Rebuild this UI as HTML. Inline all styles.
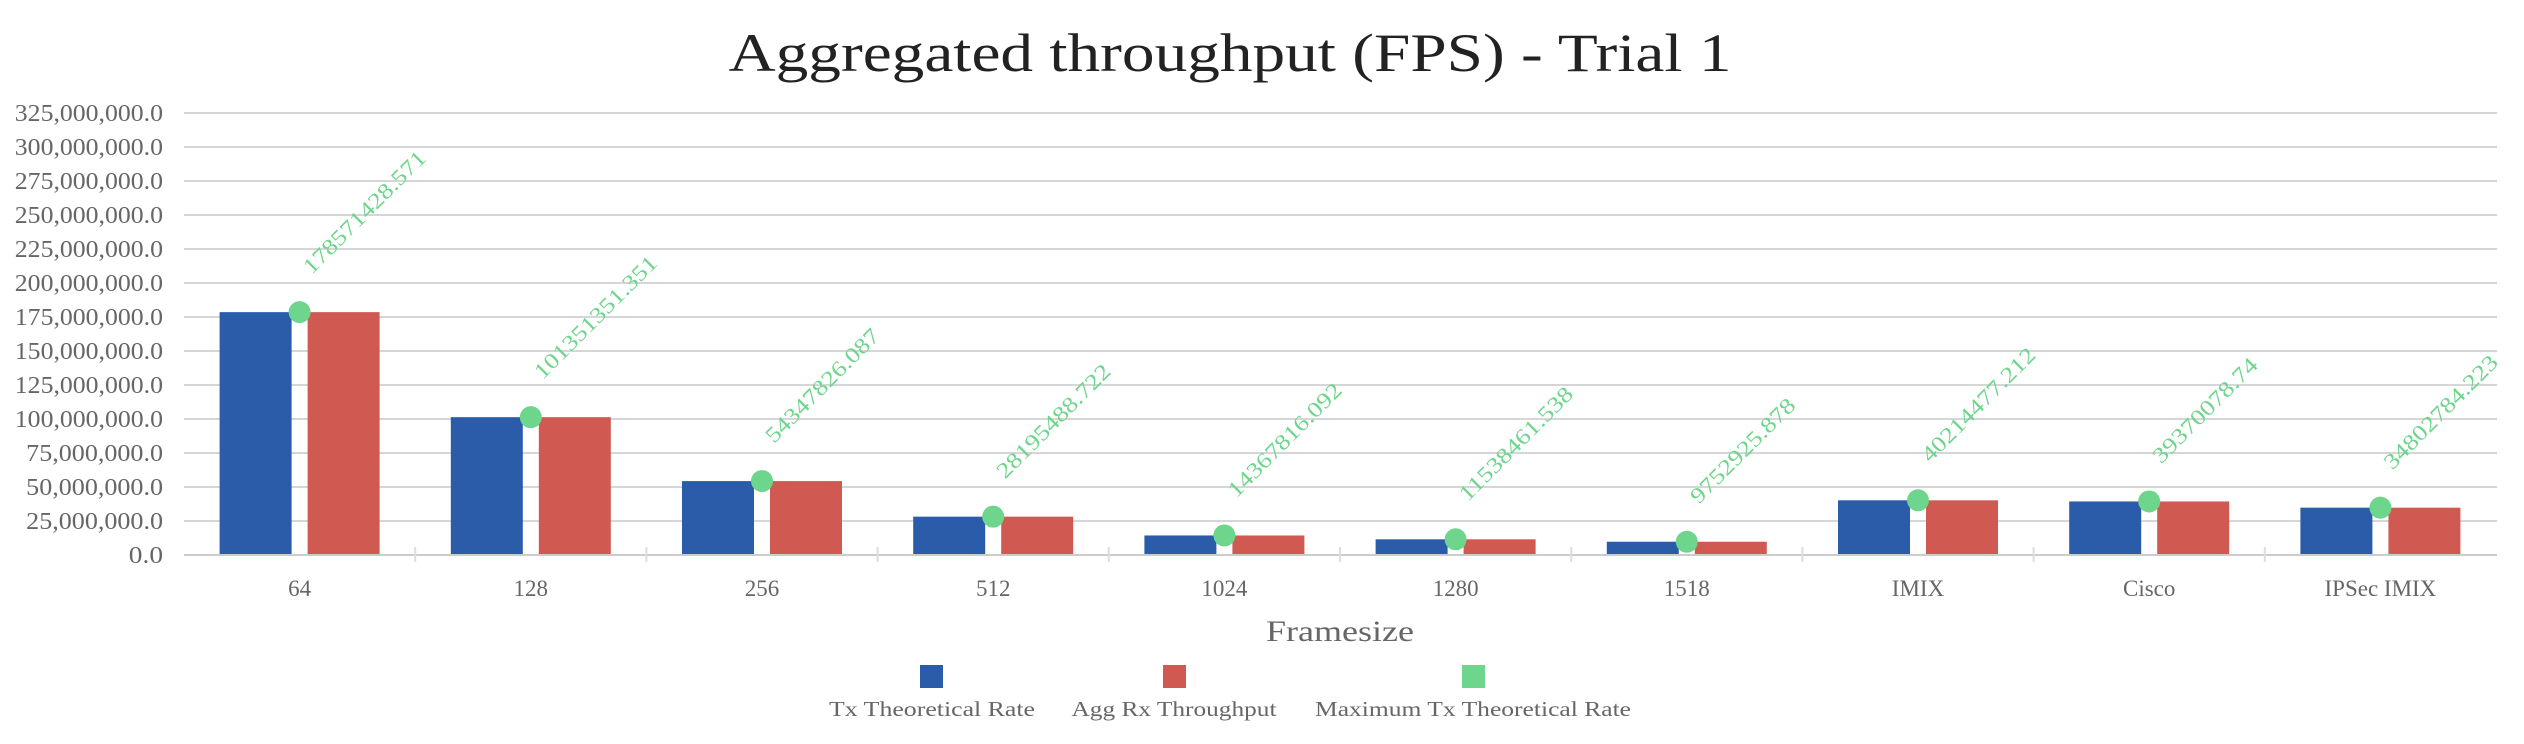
<!DOCTYPE html>
<html><head><meta charset="utf-8"><style>html,body{margin:0;padding:0;background:#fff}svg{display:block}</style></head>
<body>
<svg width="2524" height="744" xmlns="http://www.w3.org/2000/svg" font-family="Liberation Serif, serif">
<text x="1230" y="71" font-size="54" fill="#222" text-anchor="middle" textLength="1003" lengthAdjust="spacingAndGlyphs">Aggregated throughput (FPS) - Trial 1</text>
<g id="grid" stroke="#d6d6d6" stroke-width="2"></g>
<g id="ylab" font-size="24" fill="#666" text-anchor="end"></g>
<g id="bars"></g>
<line x1="184" y1="555" x2="2497" y2="555" stroke="#ccc" stroke-width="2"/>
<g id="ticks" stroke="#ddd" stroke-width="2"></g>
<g id="xlab" font-size="23" fill="#666" text-anchor="middle"></g>
<text x="1340" y="641" font-size="30" fill="#666" text-anchor="middle" textLength="148" lengthAdjust="spacingAndGlyphs">Framesize</text>
<rect x="920" y="665" width="23" height="23" fill="#2a5caa"/>
<rect x="1163" y="665" width="23" height="23" fill="#d05a52"/>
<rect x="1462" y="665" width="23" height="23" fill="#6dd58c"/>
<g font-size="21" fill="#666" text-anchor="middle">
<text x="932" y="716" textLength="206" lengthAdjust="spacingAndGlyphs">Tx Theoretical Rate</text>
<text x="1174" y="716" textLength="205" lengthAdjust="spacingAndGlyphs">Agg Rx Throughput</text>
<text x="1473" y="716" textLength="316" lengthAdjust="spacingAndGlyphs">Maximum Tx Theoretical Rate</text>
</g>
<script>
var ns="http://www.w3.org/2000/svg";
function el(p,t,a,txt){var e=document.createElementNS(ns,t);for(var k in a)e.setAttribute(k,a[k]);if(txt!=null)e.textContent=txt;document.getElementById(p).appendChild(e);return e;}
var y0=555,sc=442/325e6;
for(var i=1;i<=13;i++){var v=i*25e6,y=y0-v*sc;el("grid","line",{x1:184,x2:2497,y1:y,y2:y});}
for(var i=0;i<=13;i++){var v=i*25e6,y=y0-v*sc,s=v.toLocaleString("en-US")+".0";el("ylab","text",{x:163,y:y+8,textLength:s.length*11.4,lengthAdjust:"spacingAndGlyphs"},s);}
var cats=["64","128","256","512","1024","1280","1518","IMIX","Cisco","IPSec IMIX"];
var vals=["178571428.571","101351351.351","54347826.087","28195488.722","14367816.092","11538461.538","9752925.878","40214477.212","39370078.74","34802784.223"];
var cw=231.2;
for(var i=0;i<10;i++){
 var c=184+cw*(i+0.5),v=parseFloat(vals[i]),y=y0-v*sc;
 el("bars","rect",{x:c-80,y:y,width:72,height:y0-y,fill:"#2a5caa"});
 el("bars","rect",{x:c+8,y:y,width:72,height:y0-y,fill:"#d05a52"});
 el("bars","circle",{cx:c,cy:y,r:11,fill:"#6dd58c"});
 var tx=c+12,ty=y-37;
 el("bars","text",{x:tx,y:ty,"font-size":22,fill:"#6dd58c",transform:"rotate(-45 "+tx+" "+ty+")",textLength:vals[i].length*12.6,lengthAdjust:"spacingAndGlyphs"},vals[i]);
 el("xlab","text",{x:c,y:596},cats[i]);
 if(i>0){var tx2=184+cw*i;el("ticks","line",{x1:tx2,x2:tx2,y1:547,y2:562});}
}
</script>
</svg>
</body></html>
